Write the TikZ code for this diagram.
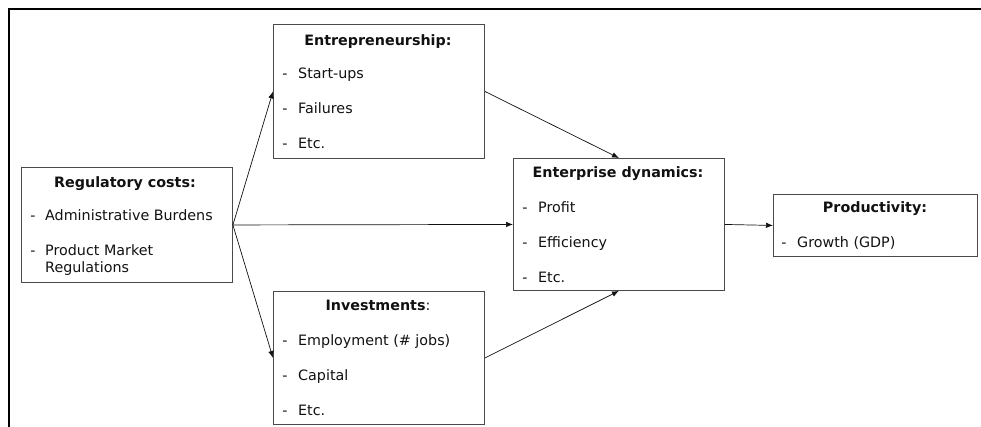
\documentclass[tikz,border=0pt]{standalone}
\usepackage{fontspec}
\setmainfont{DejaVu Sans}
\usetikzlibrary{arrows.meta}
\definecolor{boxline}{HTML}{4A4A4A}
\definecolor{ink}{HTML}{111111}
\newcommand{\txtsize}{\fontsize{14.3}{16}\selectfont}
\tikzset{
  panel/.style={draw=boxline, line width=0.9pt, inner sep=0pt, anchor=north west},
  head/.style={font=\txtsize\bfseries, text=ink, anchor=mid, inner sep=0pt, yshift=-2.5pt},
  item/.style={font=\txtsize, text=ink, anchor=mid west, inner sep=0pt, yshift=-2.5pt},
  dashmark/.style={font=\txtsize, text=ink, anchor=mid, inner sep=0pt, yshift=-2.5pt},
  link/.style={draw=ink, line width=0.7pt, -{Latex[length=7pt,width=5.5pt]}},
  frameline/.style={draw=black, line width=2pt}
}
\begin{document}
\begin{tikzpicture}[x=1pt, y=-1pt]
\useasboundingbox (0,0) rectangle (981,427);
% outer frame (left and top edges only)
\draw[frameline] (9,427) -- (9,9) -- (981,9);

% boxes
\node[panel, minimum width=211pt, minimum height=115pt] (reg) at (21,167) {};
\node[panel, minimum width=211pt, minimum height=134pt] (ent) at (273,24) {};
\node[panel, minimum width=211pt, minimum height=133pt] (inv) at (273,291) {};
\node[panel, minimum width=211pt, minimum height=132pt] (dyn) at (513,158) {};
\node[panel, minimum width=204pt, minimum height=62pt] (prod) at (773,194) {};

% Regulatory costs
\node[head] (regT) at (125,182) {Regulatory costs:};
\node[dashmark] (regD1) at (33,215) {-};
\node[item] (regI1) at (45,215) {Administrative Burdens};
\node[dashmark] (regD2) at (33,250) {-};
\node[item] (regI2) at (45,250) {Product Market};
\node[item] (regI3) at (45,267) {Regulations};

% Entrepreneurship
\node[head] (entT) at (378,40) {Entrepreneurship:};
\node[dashmark] (entD1) at (285,73) {-};
\node[item] (entI1) at (298,73) {Start-ups};
\node[dashmark] (entD2) at (285,108) {-};
\node[item] (entI2) at (298,108) {Failures};
\node[dashmark] (entD3) at (285,143) {-};
\node[item] (entI3) at (298,143) {Etc.};

% Investments
\node[head] (invT) at (378,305) {Investments\textmd{:}};
\node[dashmark] (invD1) at (285,340) {-};
\node[item] (invI1) at (298,340) {Employment (\# jobs)};
\node[dashmark] (invD2) at (285,375) {-};
\node[item] (invI2) at (298,375) {Capital};
\node[dashmark] (invD3) at (285,410) {-};
\node[item] (invI3) at (298,410) {Etc.};

% Enterprise dynamics
\node[head] (dynT) at (618,172) {Enterprise dynamics:};
\node[dashmark] (dynD1) at (525,207) {-};
\node[item] (dynI1) at (538,207) {Profit};
\node[dashmark] (dynD2) at (525,242) {-};
\node[item] (dynI2) at (538,242) {Efficiency};
\node[dashmark] (dynD3) at (525,277) {-};
\node[item] (dynI3) at (538,277) {Etc.};

% Productivity
\node[head] (prodT) at (875,207) {Productivity:};
\node[dashmark] (prodD1) at (784,242) {-};
\node[item] (prodI1) at (797,242) {Growth (GDP)};

% connectors
\draw[link] (reg.east) -- (ent.west);
\draw[link] (reg.east) -- (inv.west);
\draw[link] (reg.east) -- (dyn.west);
\draw[link] (ent.east) -- (dyn.north);
\draw[link] (inv.east) -- (dyn.south);
\draw[link] (dyn.east) -- (prod.west);
\end{tikzpicture}
\end{document}
